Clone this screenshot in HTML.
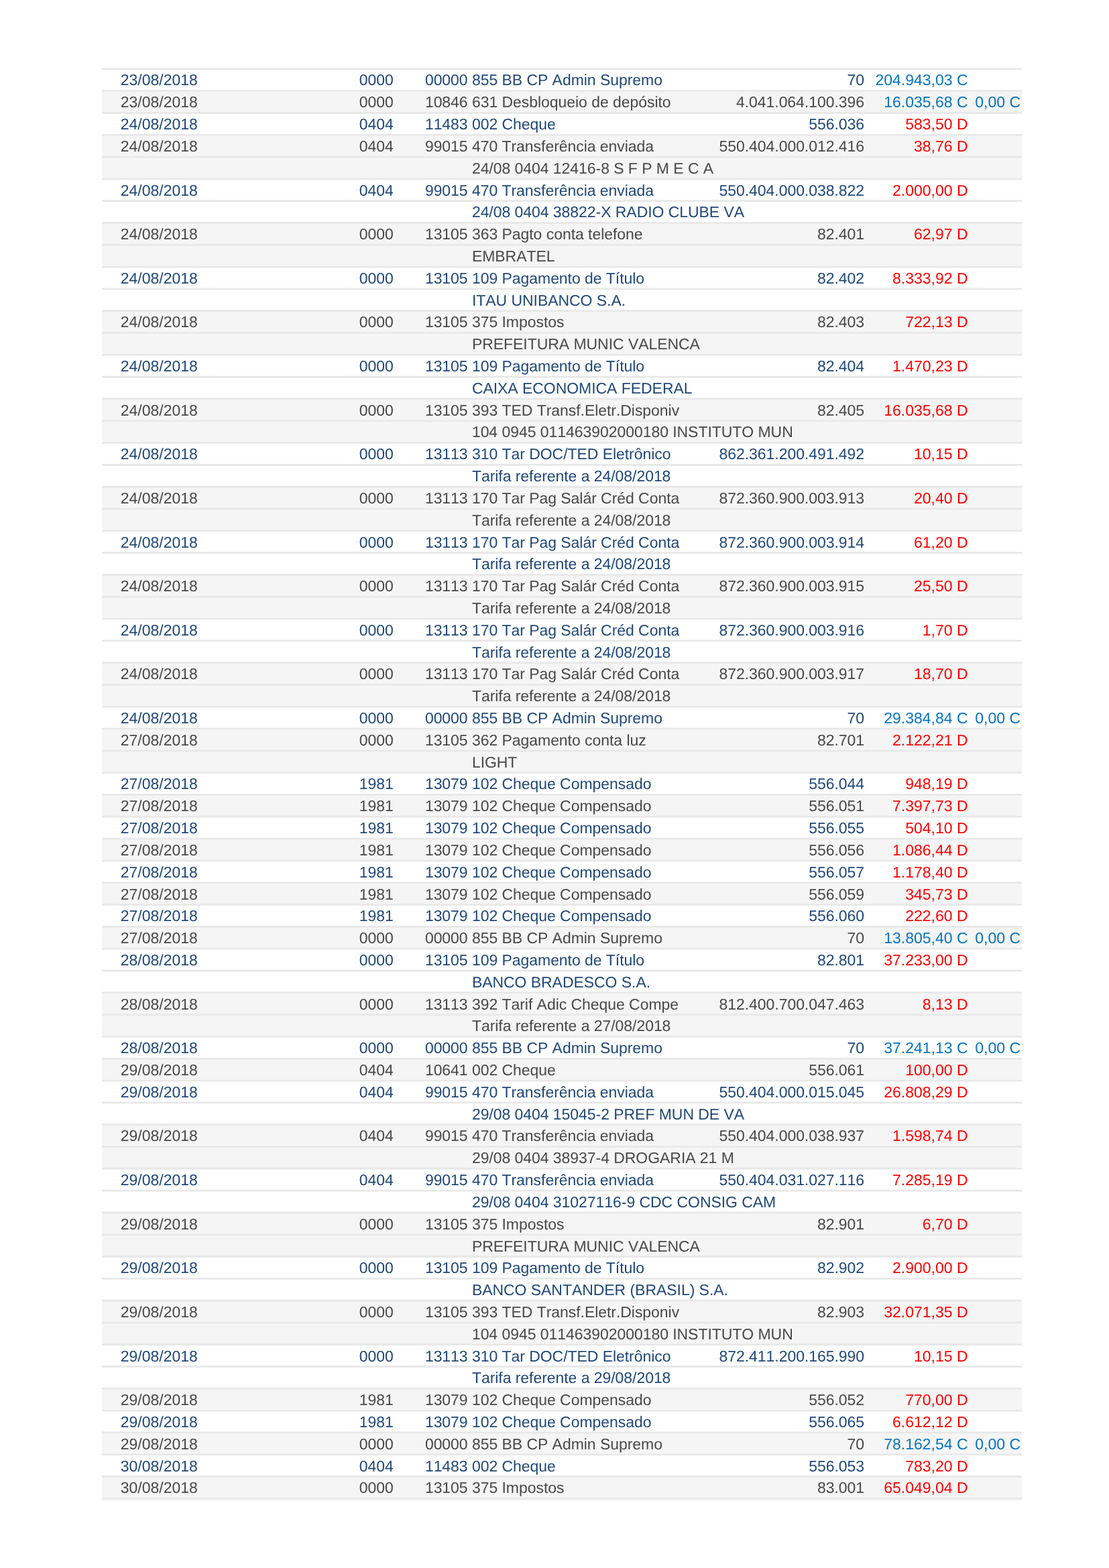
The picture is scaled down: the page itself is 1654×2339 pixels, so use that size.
<!DOCTYPE html>
<html lang="pt-BR"><head><meta charset="utf-8"><title>Extrato</title>
<style>
html,body{margin:0;padding:0;background:#fff;}
body{width:1654px;height:2339px;position:relative;overflow:hidden;font-family:"Liberation Sans",Arial,Helvetica,sans-serif;font-size:23.0px;line-height:1;font-kerning:none;text-rendering:geometricPrecision;}
svg.bgl{position:absolute;left:0;top:0;width:1654px;height:2339px;}
.t{position:absolute;left:152px;width:1372px;top:0;}
.r{position:absolute;left:0;width:1372px;height:32.808px;white-space:nowrap;}
.r.g{color:#484848;}
.r.b{color:#204878;}
.r span{position:absolute;top:0;line-height:23px;}
.d{left:27.75px;}
.a{left:383.70px;}
.h{left:481.90px;letter-spacing:-0.05px;}
.x{left:551.90px;letter-spacing:-0.05px;}
.n{right:235.00px;letter-spacing:-0.05px;}
.v{right:80.50px;}
.s{right:2.00px;}
.C{color:#0674c2;}
.D{color:#ff0000;}
</style></head><body>
<svg class="bgl" width="1654" height="2339" viewBox="0 0 1654 2339">
<rect x="152" y="134.26" width="1372" height="32.81" fill="#f5f5f5"/>
<rect x="152" y="199.87" width="1372" height="32.81" fill="#f5f5f5"/>
<rect x="152" y="232.68" width="1372" height="32.81" fill="#f5f5f5"/>
<rect x="152" y="331.11" width="1372" height="32.81" fill="#f5f5f5"/>
<rect x="152" y="363.91" width="1372" height="32.81" fill="#f5f5f5"/>
<rect x="152" y="462.34" width="1372" height="32.81" fill="#f5f5f5"/>
<rect x="152" y="495.15" width="1372" height="32.81" fill="#f5f5f5"/>
<rect x="152" y="593.57" width="1372" height="32.81" fill="#f5f5f5"/>
<rect x="152" y="626.38" width="1372" height="32.81" fill="#f5f5f5"/>
<rect x="152" y="724.80" width="1372" height="32.81" fill="#f5f5f5"/>
<rect x="152" y="757.61" width="1372" height="32.81" fill="#f5f5f5"/>
<rect x="152" y="856.03" width="1372" height="32.81" fill="#f5f5f5"/>
<rect x="152" y="888.84" width="1372" height="32.81" fill="#f5f5f5"/>
<rect x="152" y="987.27" width="1372" height="32.81" fill="#f5f5f5"/>
<rect x="152" y="1020.07" width="1372" height="32.81" fill="#f5f5f5"/>
<rect x="152" y="1085.69" width="1372" height="32.81" fill="#f5f5f5"/>
<rect x="152" y="1118.50" width="1372" height="32.81" fill="#f5f5f5"/>
<rect x="152" y="1184.11" width="1372" height="32.81" fill="#f5f5f5"/>
<rect x="152" y="1249.73" width="1372" height="32.81" fill="#f5f5f5"/>
<rect x="152" y="1315.35" width="1372" height="32.81" fill="#f5f5f5"/>
<rect x="152" y="1380.96" width="1372" height="32.81" fill="#f5f5f5"/>
<rect x="152" y="1479.39" width="1372" height="32.81" fill="#f5f5f5"/>
<rect x="152" y="1512.19" width="1372" height="32.81" fill="#f5f5f5"/>
<rect x="152" y="1577.81" width="1372" height="32.81" fill="#f5f5f5"/>
<rect x="152" y="1676.23" width="1372" height="32.81" fill="#f5f5f5"/>
<rect x="152" y="1709.04" width="1372" height="32.81" fill="#f5f5f5"/>
<rect x="152" y="1807.47" width="1372" height="32.81" fill="#f5f5f5"/>
<rect x="152" y="1840.27" width="1372" height="32.81" fill="#f5f5f5"/>
<rect x="152" y="1938.70" width="1372" height="32.81" fill="#f5f5f5"/>
<rect x="152" y="1971.51" width="1372" height="32.81" fill="#f5f5f5"/>
<rect x="152" y="2069.93" width="1372" height="32.81" fill="#f5f5f5"/>
<rect x="152" y="2135.55" width="1372" height="32.81" fill="#f5f5f5"/>
<rect x="152" y="2201.16" width="1372" height="32.81" fill="#f5f5f5"/>
<rect x="152" y="101.45" width="1372" height="2.8" fill="#e8e8e8"/>
<rect x="152" y="134.26" width="1372" height="2.8" fill="#e8e8e8"/>
<rect x="152" y="167.07" width="1372" height="2.8" fill="#e8e8e8"/>
<rect x="152" y="199.87" width="1372" height="2.8" fill="#e8e8e8"/>
<rect x="152" y="232.68" width="1372" height="2.8" fill="#e8e8e8"/>
<rect x="152" y="265.49" width="1372" height="2.8" fill="#e8e8e8"/>
<rect x="152" y="298.30" width="1372" height="2.8" fill="#e8e8e8"/>
<rect x="152" y="331.11" width="1372" height="2.8" fill="#e8e8e8"/>
<rect x="152" y="363.91" width="1372" height="2.8" fill="#e8e8e8"/>
<rect x="152" y="396.72" width="1372" height="2.8" fill="#e8e8e8"/>
<rect x="152" y="429.53" width="1372" height="2.8" fill="#e8e8e8"/>
<rect x="152" y="462.34" width="1372" height="2.8" fill="#e8e8e8"/>
<rect x="152" y="495.15" width="1372" height="2.8" fill="#e8e8e8"/>
<rect x="152" y="527.95" width="1372" height="2.8" fill="#e8e8e8"/>
<rect x="152" y="560.76" width="1372" height="2.8" fill="#e8e8e8"/>
<rect x="152" y="593.57" width="1372" height="2.8" fill="#e8e8e8"/>
<rect x="152" y="626.38" width="1372" height="2.8" fill="#e8e8e8"/>
<rect x="152" y="659.19" width="1372" height="2.8" fill="#e8e8e8"/>
<rect x="152" y="691.99" width="1372" height="2.8" fill="#e8e8e8"/>
<rect x="152" y="724.80" width="1372" height="2.8" fill="#e8e8e8"/>
<rect x="152" y="757.61" width="1372" height="2.8" fill="#e8e8e8"/>
<rect x="152" y="790.42" width="1372" height="2.8" fill="#e8e8e8"/>
<rect x="152" y="823.23" width="1372" height="2.8" fill="#e8e8e8"/>
<rect x="152" y="856.03" width="1372" height="2.8" fill="#e8e8e8"/>
<rect x="152" y="888.84" width="1372" height="2.8" fill="#e8e8e8"/>
<rect x="152" y="921.65" width="1372" height="2.8" fill="#e8e8e8"/>
<rect x="152" y="954.46" width="1372" height="2.8" fill="#e8e8e8"/>
<rect x="152" y="987.27" width="1372" height="2.8" fill="#e8e8e8"/>
<rect x="152" y="1020.07" width="1372" height="2.8" fill="#e8e8e8"/>
<rect x="152" y="1052.88" width="1372" height="2.8" fill="#e8e8e8"/>
<rect x="152" y="1085.69" width="1372" height="2.8" fill="#e8e8e8"/>
<rect x="152" y="1118.50" width="1372" height="2.8" fill="#e8e8e8"/>
<rect x="152" y="1151.31" width="1372" height="2.8" fill="#e8e8e8"/>
<rect x="152" y="1184.11" width="1372" height="2.8" fill="#e8e8e8"/>
<rect x="152" y="1216.92" width="1372" height="2.8" fill="#e8e8e8"/>
<rect x="152" y="1249.73" width="1372" height="2.8" fill="#e8e8e8"/>
<rect x="152" y="1282.54" width="1372" height="2.8" fill="#e8e8e8"/>
<rect x="152" y="1315.35" width="1372" height="2.8" fill="#e8e8e8"/>
<rect x="152" y="1348.15" width="1372" height="2.8" fill="#e8e8e8"/>
<rect x="152" y="1380.96" width="1372" height="2.8" fill="#e8e8e8"/>
<rect x="152" y="1413.77" width="1372" height="2.8" fill="#e8e8e8"/>
<rect x="152" y="1446.58" width="1372" height="2.8" fill="#e8e8e8"/>
<rect x="152" y="1479.39" width="1372" height="2.8" fill="#e8e8e8"/>
<rect x="152" y="1512.19" width="1372" height="2.8" fill="#e8e8e8"/>
<rect x="152" y="1545.00" width="1372" height="2.8" fill="#e8e8e8"/>
<rect x="152" y="1577.81" width="1372" height="2.8" fill="#e8e8e8"/>
<rect x="152" y="1610.62" width="1372" height="2.8" fill="#e8e8e8"/>
<rect x="152" y="1643.43" width="1372" height="2.8" fill="#e8e8e8"/>
<rect x="152" y="1676.23" width="1372" height="2.8" fill="#e8e8e8"/>
<rect x="152" y="1709.04" width="1372" height="2.8" fill="#e8e8e8"/>
<rect x="152" y="1741.85" width="1372" height="2.8" fill="#e8e8e8"/>
<rect x="152" y="1774.66" width="1372" height="2.8" fill="#e8e8e8"/>
<rect x="152" y="1807.47" width="1372" height="2.8" fill="#e8e8e8"/>
<rect x="152" y="1840.27" width="1372" height="2.8" fill="#e8e8e8"/>
<rect x="152" y="1873.08" width="1372" height="2.8" fill="#e8e8e8"/>
<rect x="152" y="1905.89" width="1372" height="2.8" fill="#e8e8e8"/>
<rect x="152" y="1938.70" width="1372" height="2.8" fill="#e8e8e8"/>
<rect x="152" y="1971.51" width="1372" height="2.8" fill="#e8e8e8"/>
<rect x="152" y="2004.31" width="1372" height="2.8" fill="#e8e8e8"/>
<rect x="152" y="2037.12" width="1372" height="2.8" fill="#e8e8e8"/>
<rect x="152" y="2069.93" width="1372" height="2.8" fill="#e8e8e8"/>
<rect x="152" y="2102.74" width="1372" height="2.8" fill="#e8e8e8"/>
<rect x="152" y="2135.55" width="1372" height="2.8" fill="#e8e8e8"/>
<rect x="152" y="2168.35" width="1372" height="2.8" fill="#e8e8e8"/>
<rect x="152" y="2201.16" width="1372" height="2.8" fill="#e8e8e8"/>
<rect x="152" y="2233.97" width="1372" height="2.8" fill="#e8e8e8"/>
<rect x="152" y="2236.77" width="1372" height="2.1" fill="#f5f5f5"/>
</svg>
<div class="t">
<div class="r b" style="top:108px"><span class="d">23/08/2018</span><span class="a">0000</span><span class="h">00000 855 BB CP Admin Supremo</span><span class="n">70</span><span class="v C">204.943,03 C</span></div>
<div class="r g" style="top:141px"><span class="d">23/08/2018</span><span class="a">0000</span><span class="h">10846 631 Desbloqueio de depósito</span><span class="n">4.041.064.100.396</span><span class="v C">16.035,68 C</span><span class="s C">0,00 C</span></div>
<div class="r b" style="top:174px"><span class="d">24/08/2018</span><span class="a">0404</span><span class="h">11483 002 Cheque</span><span class="n">556.036</span><span class="v D">583,50 D</span></div>
<div class="r g" style="top:207px"><span class="d">24/08/2018</span><span class="a">0404</span><span class="h">99015 470 Transferência enviada</span><span class="n">550.404.000.012.416</span><span class="v D">38,76 D</span></div>
<div class="r g" style="top:240px"><span class="x">24/08 0404 12416-8 S F P M E C A</span></div>
<div class="r b" style="top:273px"><span class="d">24/08/2018</span><span class="a">0404</span><span class="h">99015 470 Transferência enviada</span><span class="n">550.404.000.038.822</span><span class="v D">2.000,00 D</span></div>
<div class="r b" style="top:305px"><span class="x">24/08 0404 38822-X RADIO CLUBE VA</span></div>
<div class="r g" style="top:338px"><span class="d">24/08/2018</span><span class="a">0000</span><span class="h">13105 363 Pagto conta telefone</span><span class="n">82.401</span><span class="v D">62,97 D</span></div>
<div class="r g" style="top:371px"><span class="x">EMBRATEL</span></div>
<div class="r b" style="top:404px"><span class="d">24/08/2018</span><span class="a">0000</span><span class="h">13105 109 Pagamento de Título</span><span class="n">82.402</span><span class="v D">8.333,92 D</span></div>
<div class="r b" style="top:437px"><span class="x">ITAU UNIBANCO S.A.</span></div>
<div class="r g" style="top:469px"><span class="d">24/08/2018</span><span class="a">0000</span><span class="h">13105 375 Impostos</span><span class="n">82.403</span><span class="v D">722,13 D</span></div>
<div class="r g" style="top:502px"><span class="x">PREFEITURA MUNIC VALENCA</span></div>
<div class="r b" style="top:535px"><span class="d">24/08/2018</span><span class="a">0000</span><span class="h">13105 109 Pagamento de Título</span><span class="n">82.404</span><span class="v D">1.470,23 D</span></div>
<div class="r b" style="top:568px"><span class="x">CAIXA ECONOMICA FEDERAL</span></div>
<div class="r g" style="top:601px"><span class="d">24/08/2018</span><span class="a">0000</span><span class="h">13105 393 TED Transf.Eletr.Disponiv</span><span class="n">82.405</span><span class="v D">16.035,68 D</span></div>
<div class="r g" style="top:633px"><span class="x">104 0945 011463902000180 INSTITUTO MUN</span></div>
<div class="r b" style="top:666px"><span class="d">24/08/2018</span><span class="a">0000</span><span class="h">13113 310 Tar DOC/TED Eletrônico</span><span class="n">862.361.200.491.492</span><span class="v D">10,15 D</span></div>
<div class="r b" style="top:699px"><span class="x">Tarifa referente a 24/08/2018</span></div>
<div class="r g" style="top:732px"><span class="d">24/08/2018</span><span class="a">0000</span><span class="h">13113 170 Tar Pag Salár Créd Conta</span><span class="n">872.360.900.003.913</span><span class="v D">20,40 D</span></div>
<div class="r g" style="top:765px"><span class="x">Tarifa referente a 24/08/2018</span></div>
<div class="r b" style="top:798px"><span class="d">24/08/2018</span><span class="a">0000</span><span class="h">13113 170 Tar Pag Salár Créd Conta</span><span class="n">872.360.900.003.914</span><span class="v D">61,20 D</span></div>
<div class="r b" style="top:830px"><span class="x">Tarifa referente a 24/08/2018</span></div>
<div class="r g" style="top:863px"><span class="d">24/08/2018</span><span class="a">0000</span><span class="h">13113 170 Tar Pag Salár Créd Conta</span><span class="n">872.360.900.003.915</span><span class="v D">25,50 D</span></div>
<div class="r g" style="top:896px"><span class="x">Tarifa referente a 24/08/2018</span></div>
<div class="r b" style="top:929px"><span class="d">24/08/2018</span><span class="a">0000</span><span class="h">13113 170 Tar Pag Salár Créd Conta</span><span class="n">872.360.900.003.916</span><span class="v D">1,70 D</span></div>
<div class="r b" style="top:962px"><span class="x">Tarifa referente a 24/08/2018</span></div>
<div class="r g" style="top:994px"><span class="d">24/08/2018</span><span class="a">0000</span><span class="h">13113 170 Tar Pag Salár Créd Conta</span><span class="n">872.360.900.003.917</span><span class="v D">18,70 D</span></div>
<div class="r g" style="top:1027px"><span class="x">Tarifa referente a 24/08/2018</span></div>
<div class="r b" style="top:1060px"><span class="d">24/08/2018</span><span class="a">0000</span><span class="h">00000 855 BB CP Admin Supremo</span><span class="n">70</span><span class="v C">29.384,84 C</span><span class="s C">0,00 C</span></div>
<div class="r g" style="top:1093px"><span class="d">27/08/2018</span><span class="a">0000</span><span class="h">13105 362 Pagamento conta luz</span><span class="n">82.701</span><span class="v D">2.122,21 D</span></div>
<div class="r g" style="top:1126px"><span class="x">LIGHT</span></div>
<div class="r b" style="top:1158px"><span class="d">27/08/2018</span><span class="a">1981</span><span class="h">13079 102 Cheque Compensado</span><span class="n">556.044</span><span class="v D">948,19 D</span></div>
<div class="r g" style="top:1191px"><span class="d">27/08/2018</span><span class="a">1981</span><span class="h">13079 102 Cheque Compensado</span><span class="n">556.051</span><span class="v D">7.397,73 D</span></div>
<div class="r b" style="top:1224px"><span class="d">27/08/2018</span><span class="a">1981</span><span class="h">13079 102 Cheque Compensado</span><span class="n">556.055</span><span class="v D">504,10 D</span></div>
<div class="r g" style="top:1257px"><span class="d">27/08/2018</span><span class="a">1981</span><span class="h">13079 102 Cheque Compensado</span><span class="n">556.056</span><span class="v D">1.086,44 D</span></div>
<div class="r b" style="top:1290px"><span class="d">27/08/2018</span><span class="a">1981</span><span class="h">13079 102 Cheque Compensado</span><span class="n">556.057</span><span class="v D">1.178,40 D</span></div>
<div class="r g" style="top:1323px"><span class="d">27/08/2018</span><span class="a">1981</span><span class="h">13079 102 Cheque Compensado</span><span class="n">556.059</span><span class="v D">345,73 D</span></div>
<div class="r b" style="top:1355px"><span class="d">27/08/2018</span><span class="a">1981</span><span class="h">13079 102 Cheque Compensado</span><span class="n">556.060</span><span class="v D">222,60 D</span></div>
<div class="r g" style="top:1388px"><span class="d">27/08/2018</span><span class="a">0000</span><span class="h">00000 855 BB CP Admin Supremo</span><span class="n">70</span><span class="v C">13.805,40 C</span><span class="s C">0,00 C</span></div>
<div class="r b" style="top:1421px"><span class="d">28/08/2018</span><span class="a">0000</span><span class="h">13105 109 Pagamento de Título</span><span class="n">82.801</span><span class="v D">37.233,00 D</span></div>
<div class="r b" style="top:1454px"><span class="x">BANCO BRADESCO S.A.</span></div>
<div class="r g" style="top:1487px"><span class="d">28/08/2018</span><span class="a">0000</span><span class="h">13113 392 Tarif Adic Cheque Compe</span><span class="n">812.400.700.047.463</span><span class="v D">8,13 D</span></div>
<div class="r g" style="top:1519px"><span class="x">Tarifa referente a 27/08/2018</span></div>
<div class="r b" style="top:1552px"><span class="d">28/08/2018</span><span class="a">0000</span><span class="h">00000 855 BB CP Admin Supremo</span><span class="n">70</span><span class="v C">37.241,13 C</span><span class="s C">0,00 C</span></div>
<div class="r g" style="top:1585px"><span class="d">29/08/2018</span><span class="a">0404</span><span class="h">10641 002 Cheque</span><span class="n">556.061</span><span class="v D">100,00 D</span></div>
<div class="r b" style="top:1618px"><span class="d">29/08/2018</span><span class="a">0404</span><span class="h">99015 470 Transferência enviada</span><span class="n">550.404.000.015.045</span><span class="v D">26.808,29 D</span></div>
<div class="r b" style="top:1651px"><span class="x">29/08 0404 15045-2 PREF MUN DE VA</span></div>
<div class="r g" style="top:1683px"><span class="d">29/08/2018</span><span class="a">0404</span><span class="h">99015 470 Transferência enviada</span><span class="n">550.404.000.038.937</span><span class="v D">1.598,74 D</span></div>
<div class="r g" style="top:1716px"><span class="x">29/08 0404 38937-4 DROGARIA 21 M</span></div>
<div class="r b" style="top:1749px"><span class="d">29/08/2018</span><span class="a">0404</span><span class="h">99015 470 Transferência enviada</span><span class="n">550.404.031.027.116</span><span class="v D">7.285,19 D</span></div>
<div class="r b" style="top:1782px"><span class="x">29/08 0404 31027116-9 CDC CONSIG CAM</span></div>
<div class="r g" style="top:1815px"><span class="d">29/08/2018</span><span class="a">0000</span><span class="h">13105 375 Impostos</span><span class="n">82.901</span><span class="v D">6,70 D</span></div>
<div class="r g" style="top:1848px"><span class="x">PREFEITURA MUNIC VALENCA</span></div>
<div class="r b" style="top:1880px"><span class="d">29/08/2018</span><span class="a">0000</span><span class="h">13105 109 Pagamento de Título</span><span class="n">82.902</span><span class="v D">2.900,00 D</span></div>
<div class="r b" style="top:1913px"><span class="x">BANCO SANTANDER (BRASIL) S.A.</span></div>
<div class="r g" style="top:1946px"><span class="d">29/08/2018</span><span class="a">0000</span><span class="h">13105 393 TED Transf.Eletr.Disponiv</span><span class="n">82.903</span><span class="v D">32.071,35 D</span></div>
<div class="r g" style="top:1979px"><span class="x">104 0945 011463902000180 INSTITUTO MUN</span></div>
<div class="r b" style="top:2012px"><span class="d">29/08/2018</span><span class="a">0000</span><span class="h">13113 310 Tar DOC/TED Eletrônico</span><span class="n">872.411.200.165.990</span><span class="v D">10,15 D</span></div>
<div class="r b" style="top:2044px"><span class="x">Tarifa referente a 29/08/2018</span></div>
<div class="r g" style="top:2077px"><span class="d">29/08/2018</span><span class="a">1981</span><span class="h">13079 102 Cheque Compensado</span><span class="n">556.052</span><span class="v D">770,00 D</span></div>
<div class="r b" style="top:2110px"><span class="d">29/08/2018</span><span class="a">1981</span><span class="h">13079 102 Cheque Compensado</span><span class="n">556.065</span><span class="v D">6.612,12 D</span></div>
<div class="r g" style="top:2143px"><span class="d">29/08/2018</span><span class="a">0000</span><span class="h">00000 855 BB CP Admin Supremo</span><span class="n">70</span><span class="v C">78.162,54 C</span><span class="s C">0,00 C</span></div>
<div class="r b" style="top:2176px"><span class="d">30/08/2018</span><span class="a">0404</span><span class="h">11483 002 Cheque</span><span class="n">556.053</span><span class="v D">783,20 D</span></div>
<div class="r g" style="top:2208px"><span class="d">30/08/2018</span><span class="a">0000</span><span class="h">13105 375 Impostos</span><span class="n">83.001</span><span class="v D">65.049,04 D</span></div>
</div>
</body></html>
